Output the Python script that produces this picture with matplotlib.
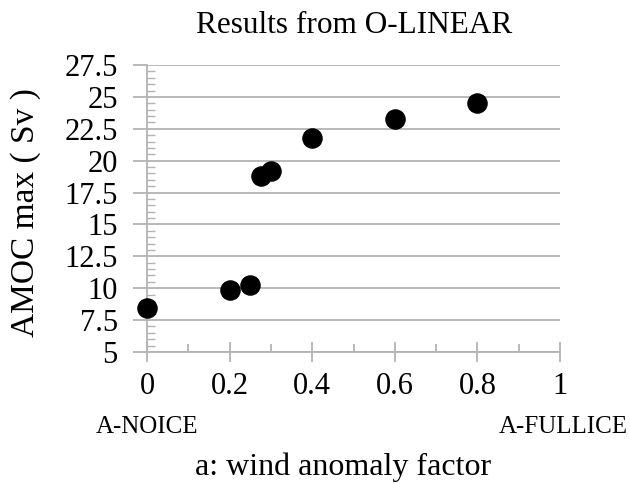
import matplotlib
matplotlib.use('Agg')
from matplotlib import pyplot as plt
from matplotlib.ticker import MultipleLocator

plt.rcParams['font.family'] = ['Liberation Serif', 'DejaVu Serif']

# wind anomaly factor vs AMOC max
wind_factor = [0.0, 0.2, 0.25, 0.275, 0.3, 0.4, 0.6, 0.8]
amoc_max = [8.45, 9.85, 10.25, 18.8, 19.2, 21.75, 23.25, 24.55]

y_ticks = [5, 7.5, 10, 12.5, 15, 17.5, 20, 22.5, 25, 27.5]
y_labels = ['5', '7.5', '10', '12.5', '15', '17.5', '20', '22.5', '25', '27.5']
x_ticks = [0, 0.2, 0.4, 0.6, 0.8, 1]
x_labels = ['0', '0.2', '0.4', '0.6', '0.8', '1']

grey = '#b3b3b3'

fig = plt.figure(dpi=100, figsize=(6.3, 4.84))
ax = fig.add_axes([147/630, 132/484, 413/630, 287/484])

ax.scatter(wind_factor, amoc_max, s=190, c='black', zorder=3, clip_on=False)

ax.set_xlim(0, 1)
ax.set_ylim(5, 27.5)
ax.set_yticks(y_ticks)
ax.set_yticklabels(y_labels)
ax.set_xticks(x_ticks)
ax.set_xticklabels(x_labels)
ax.yaxis.set_minor_locator(MultipleLocator(0.5))
ax.xaxis.set_minor_locator(MultipleLocator(0.1))

ax.grid(axis='y', which='major', color=grey, linewidth=1.3)
ax.set_axisbelow(True)

for s in ['top', 'right']:
    ax.spines[s].set_visible(False)
for s in ['left', 'bottom']:
    ax.spines[s].set_color(grey)
    ax.spines[s].set_linewidth(1.3)

ax.tick_params(axis='y', which='major', direction='out', length=10, width=1.3,
               color=grey, labelsize=22, pad=11)
ax.tick_params(axis='y', which='minor', direction='in', length=6, width=1.0, color=grey)
ax.tick_params(axis='x', which='major', direction='inout', length=15, width=1.3,
               color=grey, labelsize=22, pad=7)
ax.tick_params(axis='x', which='minor', direction='in', length=6, width=1.3, color=grey)

# titles and labels placed in figure pixels
fig.text(26/630, 1 - 213/484, 'AMOC max ( Sv )', fontsize=24, rotation=90,
         ha='center', va='center')
fig.text(354/630, 1 - 33/484, 'Results from O-LINEAR', fontsize=22.5,
         ha='center', va='baseline')
fig.text(147/630, 1 - 433/484, 'A-NOICE', fontsize=18, ha='center', va='baseline')
fig.text(563/630, 1 - 433/484, 'A-FULLICE', fontsize=18, ha='center', va='baseline')
fig.text(343/630, 1 - 475/484, 'a: wind anomaly factor', fontsize=23,
         ha='center', va='baseline')

plt.savefig('out.png', dpi=100)
